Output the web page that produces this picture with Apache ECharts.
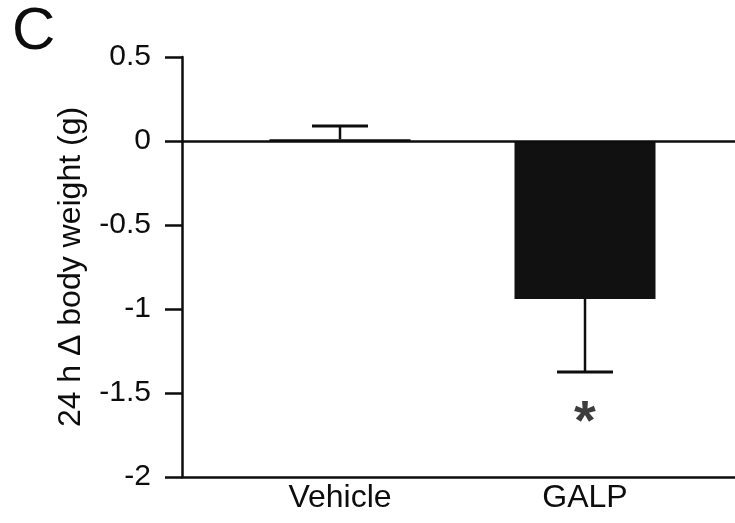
<!DOCTYPE html>
<html>
<head>
<meta charset="utf-8">
<script src="https://cdn.jsdelivr.net/npm/echarts@6/dist/echarts.min.js"></script>
<style>html,body{margin:0;padding:0;background:#fff}#c{width:735px;height:523px}</style>
</head>
<body>
<div id="c"></div>
<script>
// Data
const categories = ['Vehicle', 'GALP'];
const means = [0.01, -0.94];
const errorEnds = [0.09, -1.375];
const significance = ['', '*'];
const sigY = [null, -1.62];
const yMin = -2, yMax = 0.5, yInterval = 0.5;

const FONT = '"Liberation Sans", Arial, Helvetica, sans-serif';
const INK = '#0d0d0d';
const chart = echarts.init(document.getElementById('c'), null, {renderer: 'canvas'});

const barData = means.map((m, i) => ({
  value: [i, m],
  itemStyle: i === 0 ? {color: '#ffffff', borderColor: INK, borderWidth: 1.5} : {color: '#111111'}
}));
const errData = means.map((m, i) => [i, m, errorEnds[i]]);
const sigData = [];
significance.forEach((s, i) => { if (s) sigData.push({value: [i, sigY[i]], name: s}); });

chart.setOption({
  animation: false,
  backgroundColor: '#ffffff',
  title: {text: 'C', left: 7, top: -3, textStyle: {fontFamily: FONT, fontWeight: 'normal', fontSize: 60, color: INK}},
  grid: {left: 182, right: 0, top: 57, bottom: 46},
  xAxis: {
    type: 'value', min: -0.6449, max: 1.6122,
    splitLine: {show: false},
    axisLine: {onZero: false, lineStyle: {color: INK, width: 2.5}},
    axisTick: {show: false},
    axisLabel: {
      customValues: [0, 1],
      formatter: v => categories[Math.round(v)] || '',
      fontFamily: FONT, fontSize: 32, color: INK, margin: 5
    }
  },
  yAxis: {
    type: 'value', min: yMin, max: yMax, interval: yInterval,
    name: '24 h \u0394 body weight (g)', nameLocation: 'middle', nameGap: 95,
    nameTextStyle: {fontFamily: FONT, fontSize: 32, color: INK},
    splitLine: {show: false},
    axisLine: {onZero: false, lineStyle: {color: INK, width: 2.5}},
    axisTick: {length: 17, lineStyle: {color: INK, width: 2.5}},
    axisLabel: {fontFamily: FONT, fontSize: 30, color: INK, margin: 31,
      formatter: v => String(Math.round(v * 10) / 10)}
  },
  series: [
    {
      type: 'bar', data: barData, barWidth: 141, z: 2,
      markLine: {silent: true, symbol: 'none', label: {show: false},
        lineStyle: {color: INK, width: 2.5, type: 'solid'}, data: [{yAxis: 0}]}
    },
    {
      type: 'custom', z: 3, data: errData,
      renderItem: function (params, api) {
        const x = api.value(0), m = api.value(1), e = api.value(2);
        const p1 = api.coord([x, m]), p2 = api.coord([x, e]);
        const half = 28;
        return {type: 'group', children: [
          {type: 'line', shape: {x1: p1[0], y1: p1[1], x2: p2[0], y2: p2[1]}, style: {stroke: INK, lineWidth: 2.5}},
          {type: 'line', shape: {x1: p2[0] - half, y1: p2[1], x2: p2[0] + half, y2: p2[1]}, style: {stroke: INK, lineWidth: 3}}
        ]};
      }
    },
    {
      type: 'scatter', data: sigData, symbolSize: 1, itemStyle: {color: 'rgba(0,0,0,0)'},
      label: {show: true, position: 'inside', offset: [0, 10], formatter: p => p.name,
        fontFamily: FONT, fontSize: 56, fontWeight: 'bold', color: INK}
    }
  ]
});
</script>
</body>
</html>
